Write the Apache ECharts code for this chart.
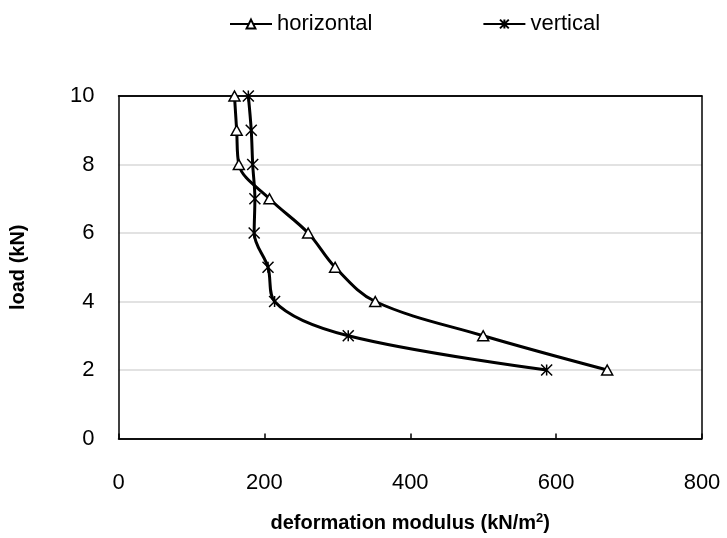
<!DOCTYPE html>
<html>
<head>
<meta charset="utf-8">
<script src="https://cdn.jsdelivr.net/npm/echarts@6/dist/echarts.min.js"></script>
<style>html,body{margin:0;padding:0;background:#fff;}#c{width:727px;height:538px;}</style>
</head>
<body>
<div id="c"></div>
<script>
var loads = [2, 3, 4, 5, 6, 7, 8, 9, 10];
var horizontal = [670, 500, 352, 297, 260, 207, 165, 162, 159];
var vertical = [587, 315, 214, 205, 186, 187, 184, 182, 178];
var xTicks = [0, 200, 400, 600, 800];
var yTicks = [0, 2, 4, 6, 8, 10];

function pairs(xs, ys) { return xs.map(function (v, i) { return [v, ys[i]]; }); }

var font = 'Arial, "Liberation Sans", sans-serif';
var chart = echarts.init(document.getElementById('c'));
chart.setOption({
  animation: false,
  backgroundColor: '#fff',
  legend: {
    top: 8, left: 224, itemWidth: 42, itemHeight: 11, itemGap: 110,
    textStyle: { fontFamily: font, fontSize: 22, color: '#000', padding: [0, 0, 0, 0] },
    data: ['horizontal', 'vertical']
  },
  grid: { left: 118.5, right: 25, top: 96, bottom: 98 },
  xAxis: [{
    type: 'value', min: xTicks[0], max: xTicks[xTicks.length - 1], interval: 200,
    name: 'deformation modulus (kN/m{s|2})', nameLocation: 'middle', nameGap: 73,
    nameTextStyle: { fontFamily: font, fontSize: 20, fontWeight: 'bold', color: '#000',
      rich: { s: { fontFamily: font, fontSize: 13, fontWeight: 'bold', color: '#000', verticalAlign: 'top', padding: [0, 0, 10, 0] } } },
    axisLine: { onZero: false, lineStyle: { color: '#000', width: 1.5 } },
    axisTick: { inside: true, length: 5, lineStyle: { color: '#000', width: 1.5 } },
    axisLabel: { fontFamily: font, fontSize: 22, color: '#000', margin: 33 },
    splitLine: { show: false }
  }, {
    type: 'value', position: 'top', min: 0, max: 800,
    axisLine: { show: true, onZero: false, lineStyle: { color: '#000', width: 1.5 } },
    axisTick: { show: false }, axisLabel: { show: false }, splitLine: { show: false }
  }],
  yAxis: [{
    type: 'value', min: yTicks[0], max: yTicks[yTicks.length - 1], interval: 2,
    name: 'load (kN)', nameLocation: 'middle', nameGap: 90,
    nameTextStyle: { fontFamily: font, fontSize: 20, fontWeight: 'bold', color: '#000' },
    axisLine: { show: true, onZero: false, lineStyle: { color: '#000', width: 1.5 } },
    axisTick: { show: false },
    axisLabel: { fontFamily: font, fontSize: 22, color: '#000', margin: 24 },
    splitLine: { show: true, lineStyle: { color: ['#000', '#d9d9d9', '#d9d9d9', '#d9d9d9', '#d9d9d9', '#000'], width: 1.5 } }
  }, {
    type: 'value', position: 'right', min: 0, max: 10,
    axisLine: { show: true, onZero: false, lineStyle: { color: '#000', width: 1.5 } },
    axisTick: { show: false }, axisLabel: { show: false }, splitLine: { show: false }
  }],
  series: [{
    name: 'horizontal', type: 'line', smooth: 0.35,
    data: pairs(horizontal, loads),
    symbol: 'triangle', symbolSize: [11, 10],
    lineStyle: { color: '#000', width: 3 },
    itemStyle: { color: '#fff', borderColor: '#000', borderWidth: 1.5 },
    z: 3
  }, {
    name: 'vertical', type: 'line', smooth: 0.35,
    data: pairs(vertical, loads),
    symbol: 'path://M0,0L10,10M10,0L0,10M5,0L5,10', symbolSize: 11,
    lineStyle: { color: '#000', width: 3 },
    itemStyle: { color: 'none', borderColor: '#000', borderWidth: 1.5 },
    z: 4
  }]
});
</script>
</body>
</html>
